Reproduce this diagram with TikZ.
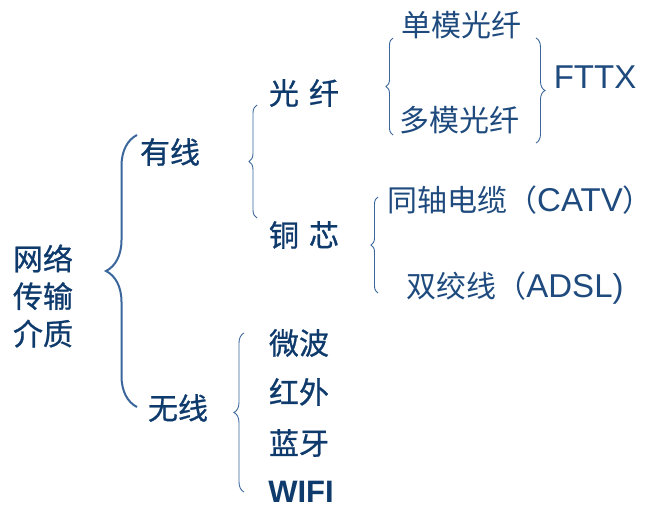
\documentclass[tikz,border=0pt]{standalone}
\usepackage{fontspec}
\setmainfont{Liberation Sans}
\newfontfamily\cjk{Noto Sans CJK SC}
\newfontfamily\cjkheavy[FakeBold=0.8]{Noto Sans CJK SC}
\usetikzlibrary{decorations.pathreplacing}
\definecolor{navy}{HTML}{0E3A6C}
\definecolor{lightnavy}{HTML}{1E4A7E}
\definecolor{bracecol}{HTML}{3A669C}

\begin{document}
\begin{tikzpicture}[
	x=1pt, y=-1pt,
	item/.style={
		text=navy,
		inner sep=0pt,
		align=center,
		font=\fontsize{30}{37.5}\selectfont\cjkheavy,
	},
	subitem/.style={item, text=lightnavy, font=\fontsize{30}{36}\selectfont\cjk},
	latin/.style={font=\fontsize{33}{36}\selectfont},
	brc/.style={
		draw=bracecol,
		line width=0.9pt,
		decorate,
		decoration={brace, amplitude=#1},
	},
	brc/.default=8,
]
\useasboundingbox (0,0) rectangle (670,517);

\node[item] (net) at (43,296) {网络\\传输\\介质};
\node[item] (wired) at (170,152) {有线};
\node[item] (wireless) at (178,408) {无线};

\node[item] (fiber) at (304,93) {光\,\,纤};
\node[item] (copper) at (304,235) {铜\,\,芯};

\node[subitem] (sm) at (461,25) {单模光纤};
\node[subitem] (mm) at (459,120) {多模光纤};
\node[subitem, latin] (fttx) at (595,77) {FTTX};

\node[subitem] (coax) at (520,200) {同轴电缆（{\fontsize{33}{36}\fontspec{Liberation Sans}CATV}）};
\node[subitem] (tp) at (515,288) {双绞线（{\fontsize{33}{36}\fontspec{Liberation Sans}ADSL)}};

\node[item] (micro) at (299,343) {微波};
\node[item] (ir) at (299,392) {红外};
\node[item] (bt) at (299,443) {蓝牙};
\node[item, font=\fontsize{31}{36}\selectfont\bfseries] (wifi) at (301,492) {WIFI};

% braces
\draw[brc=31, line width=2pt] (137,407) -- (137,135);
\draw[brc=8] (257,218) -- (257,105);
\draw[brc=7] (393,135) -- (393,38);
\draw[brc=9] (536,38) -- (536,143);
\draw[brc=7] (378,293) -- (378,197);
\draw[brc=10] (244,492) -- (244,333);

\end{tikzpicture}
\end{document}
